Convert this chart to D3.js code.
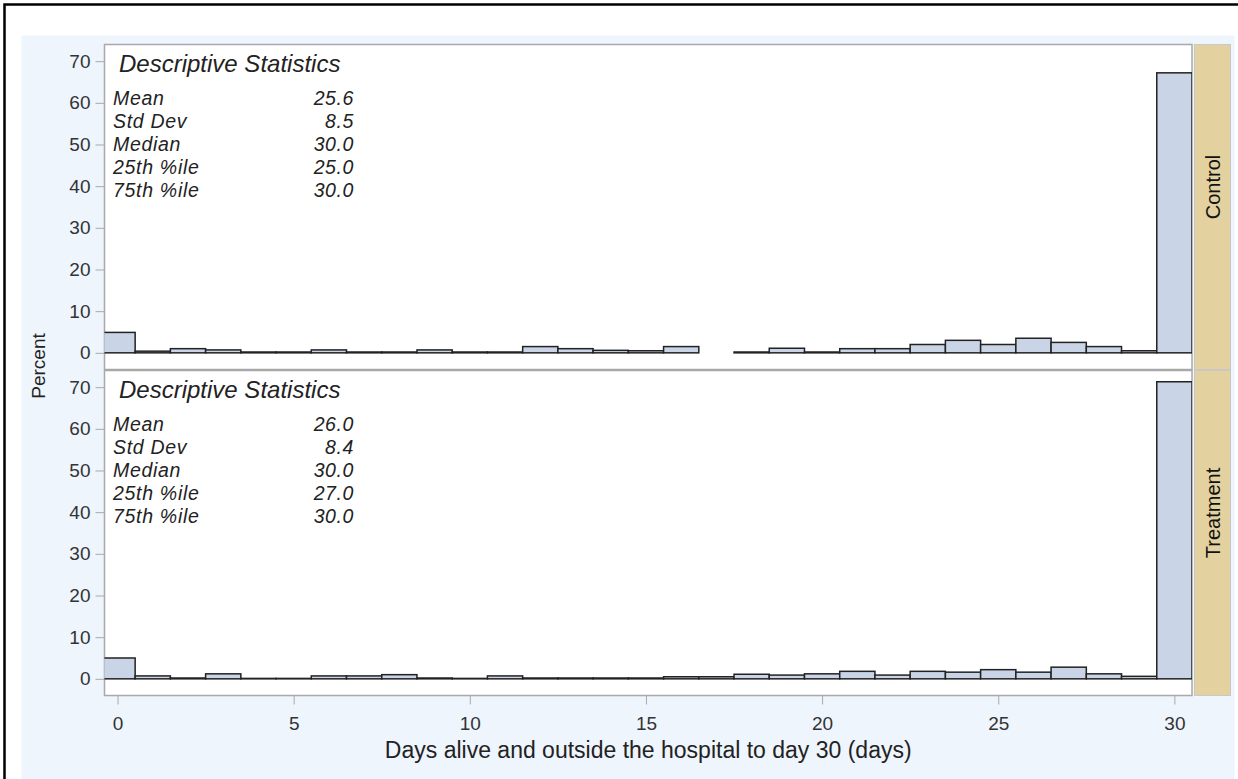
<!DOCTYPE html>
<html>
<head>
<meta charset="utf-8">
<script src="https://cdn.jsdelivr.net/npm/d3@7"></script>
<style>
  body { margin: 0; background: #ffffff; }
  svg { display: block; font-family: "Liberation Sans", Arial, sans-serif; }
</style>
</head>
<body>
<div id="chart"></div>
<script>
// days (bin midpoints) and percent of patients per bin
var days = [0,1,2,3,4,5,6,7,8,9,10,11,12,13,14,15,16,17,18,19,20,21,22,23,24,25,26,27,28,29,30];
var controlPct = [4.9,0.4,1.0,0.7,0.2,0.2,0.7,0.2,0.2,0.7,0.2,0.2,1.5,1.0,0.6,0.5,1.5,0,0.2,1.1,0.2,1.0,1.0,2.0,3.0,2.0,3.5,2.5,1.5,0.5,67.2];
var treatmentPct = [5.0,0.7,0.2,1.2,0.1,0.1,0.7,0.7,1.0,0.2,0.1,0.7,0.2,0.2,0.2,0.2,0.5,0.5,1.1,0.9,1.2,1.8,0.9,1.8,1.6,2.2,1.6,2.8,1.2,0.6,71.3];
var groups = ["Control", "Treatment"];

var statLabels = ["Mean", "Std Dev", "Median", "25th %ile", "75th %ile"];
var controlStats = ["25.6", "8.5", "30.0", "25.0", "30.0"];
var treatmentStats = ["26.0", "8.4", "30.0", "27.0", "30.0"];

var xTicks = [0, 5, 10, 15, 20, 25, 30];
var yTicks = [0, 10, 20, 30, 40, 50, 60, 70];

var W = 1238, H = 779;
var plotLeft = 104.5, plotRight = 1192;
var panelH = 325;
var panelTops = [44.5, 370.5];
var stripX = 1194.5, stripW = 36;

var svg = d3.select("#chart").append("svg")
    .attr("width", W)
    .attr("height", H);

// background + outer frame
svg.append("rect")
    .attr("x", 21.5).attr("y", 35.5)
    .attr("width", 1213).attr("height", H)
    .attr("fill", "#eef5fd");
svg.append("rect")
    .attr("x", 4.5).attr("y", 4.5)
    .attr("width", W + 10).attr("height", H + 10)
    .attr("fill", "none")
    .attr("stroke", "#000")
    .attr("stroke-width", 2.5);

var x = d3.scaleLinear()
    .domain([-0.37, 30.5])
    .range([plotLeft, plotRight]);

svg.append("defs").append("clipPath")
    .attr("id", "clip")
    .append("rect")
    .attr("x", plotLeft).attr("y", 0)
    .attr("width", plotRight - plotLeft).attr("height", H);

var allPct = [controlPct, treatmentPct];
var allStats = [controlStats, treatmentStats];

groups.forEach(function(grp, gi) {
    var top = panelTops[gi];
    var y = d3.scaleLinear()
        .domain([-4, 74])
        .range([top + panelH, top]);

    // panel
    svg.append("rect")
        .attr("x", plotLeft).attr("y", top)
        .attr("width", plotRight - plotLeft).attr("height", panelH)
        .attr("fill", "#fff")
        .attr("stroke", "#a9a9a9")
        .attr("stroke-width", 1.5);

    // strip
    svg.append("rect")
        .attr("x", stripX).attr("y", top)
        .attr("width", stripW).attr("height", panelH)
        .attr("fill", "#e3d19f")
        .attr("stroke", "#c8c8c8")
        .attr("stroke-width", 1);
    svg.append("text")
        .attr("transform", "translate(" + (stripX + stripW / 2 + 7) + "," + (top + panelH / 2 - 20) + ") rotate(-90)")
        .attr("text-anchor", "middle")
        .style("font-size", "20px")
        .style("fill", "#111")
        .text(grp);

    // y axis
    var yAxis = svg.append("g")
        .attr("transform", "translate(" + plotLeft + ",0)")
        .call(d3.axisLeft(y).tickValues(yTicks).tickSize(9).tickPadding(5));
    yAxis.select(".domain").remove();
    yAxis.selectAll("line").attr("stroke", "#a9a9a9");
    yAxis.selectAll("text")
        .style("font-size", "19px")
        .style("font-family", "'Liberation Sans', Arial, sans-serif")
        .attr("fill", "#333");

    // bars
    var data = days.map(function(d, i) { return { day: d, pct: allPct[gi][i] }; })
        .filter(function(d) { return d.pct > 0; });
    svg.append("g")
        .attr("clip-path", "url(#clip)")
        .selectAll("rect")
        .data(data)
        .join("rect")
        .attr("x", function(d) { return x(d.day - 0.5); })
        .attr("y", function(d) { return y(d.pct); })
        .attr("width", function(d) { return x(d.day + 0.5) - x(d.day - 0.5); })
        .attr("height", function(d) { return y(0) - y(d.pct); })
        .attr("fill", "#c9d5e6")
        .attr("stroke", "#222")
        .attr("stroke-width", 1.5);

    // descriptive statistics inset
    var st = svg.append("g").style("font-style", "italic").style("fill", "#222");
    st.append("text")
        .attr("x", 119).attr("y", top + 27)
        .style("font-size", "24px")
        .text("Descriptive Statistics");
    statLabels.forEach(function(lab, i) {
        st.append("text")
            .attr("x", 113).attr("y", top + 60 + i * 23)
            .style("font-size", "19.5px")
            .style("letter-spacing", "0.7px")
            .text(lab);
        st.append("text")
            .attr("x", 354).attr("y", top + 60 + i * 23)
            .attr("text-anchor", "end")
            .style("font-size", "19.5px")
            .style("letter-spacing", "0.6px")
            .text(allStats[gi][i]);
    });
});

// x axis
var xAxis = svg.append("g")
    .attr("transform", "translate(0," + (panelTops[1] + panelH) + ")")
    .call(d3.axisBottom(x).tickValues(xTicks).tickSize(9).tickPadding(12));
xAxis.select(".domain").remove();
xAxis.selectAll("line").attr("stroke", "#a9a9a9");
xAxis.selectAll("text")
    .style("font-size", "19px")
    .style("font-family", "'Liberation Sans', Arial, sans-serif")
    .attr("fill", "#333");

svg.append("text")
    .attr("x", (plotLeft + plotRight) / 2).attr("y", 758)
    .attr("text-anchor", "middle")
    .style("font-size", "23px")
    .style("fill", "#222")
    .text("Days alive and outside the hospital to day 30 (days)");

svg.append("text")
    .attr("transform", "translate(45," + 366 + ") rotate(-90)")
    .attr("text-anchor", "middle")
    .style("font-size", "19px")
    .style("fill", "#222")
    .text("Percent");
</script>
</body>
</html>
